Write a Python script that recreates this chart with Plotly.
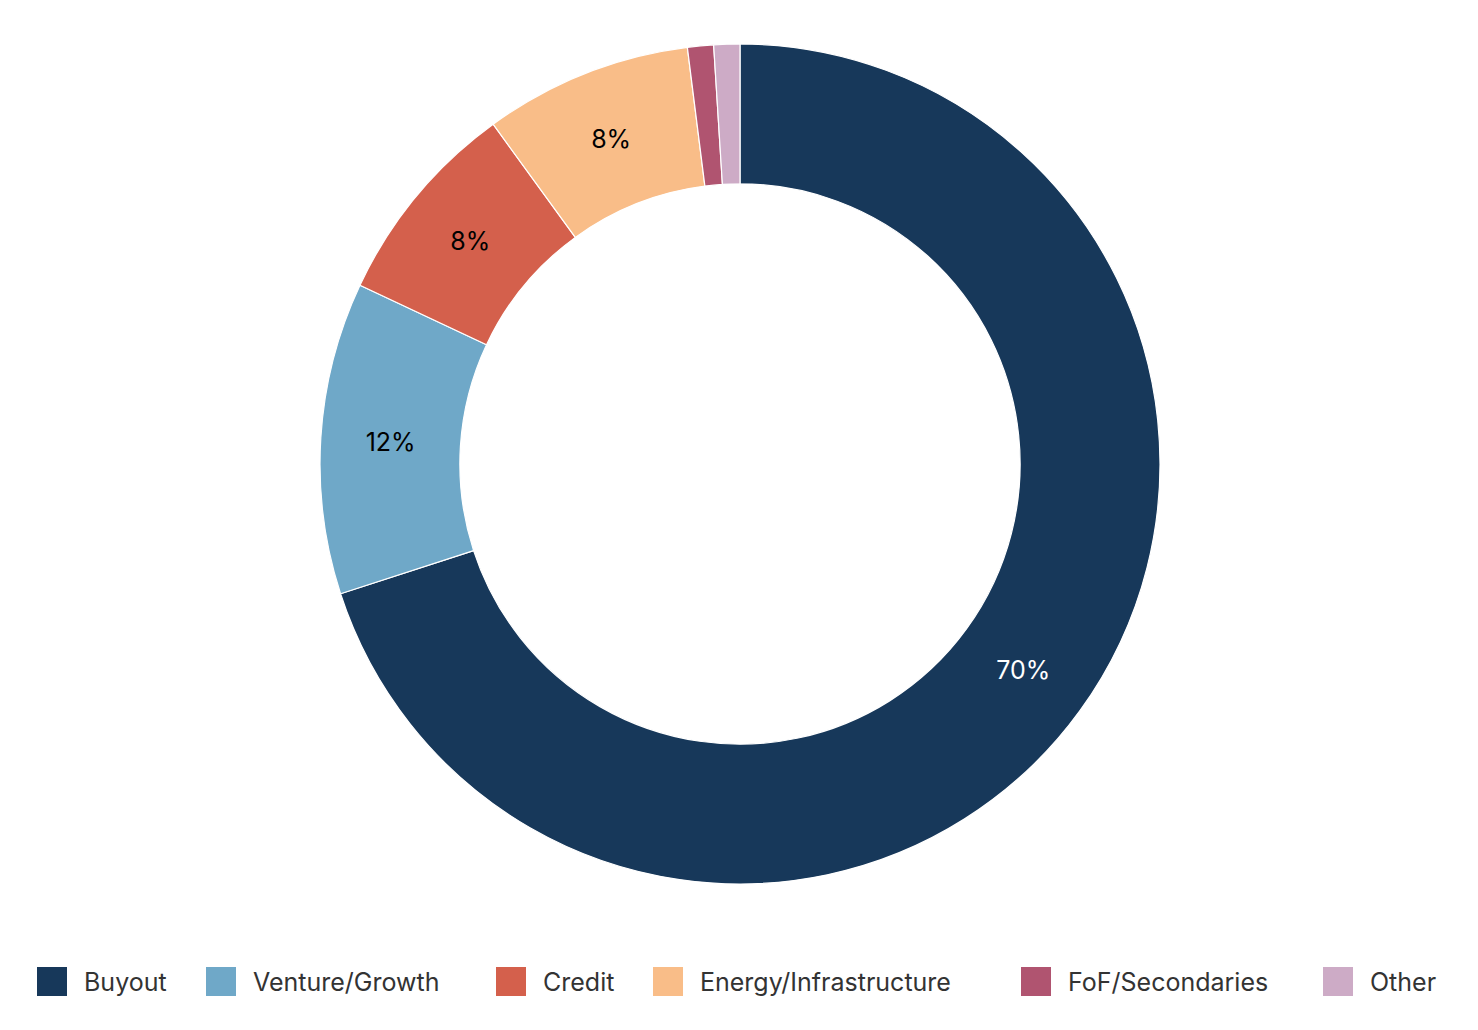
import plotly.graph_objects as go

# Fund strategy split (percent)
labels = ["Buyout", "Venture/Growth", "Credit", "Energy/Infrastructure", "FoF/Secondaries", "Other"]
values = [70, 12, 8, 8, 1, 1]
colors = ["#17385a", "#6fa8c8", "#d4604c", "#f9bd88", "#b05470", "#cdabc6"]
label_colors = ["white", "black", "black", "black", "black", "black"]

# legend square left edges in page pixels (layout only)
legend_px = [37, 206, 496, 653, 1021, 1323]

W, H = 1478, 1030
PAGE_OFF = 8          # body margin of the html page
M_L, M_R, M_T, M_B = 0, 14, 36, 154
FONT = "Inter"

slice_text = [f"{v}%" if v >= 5 else "" for v in values]

fig = go.Figure()
fig.add_trace(go.Pie(
    labels=labels,
    values=values,
    text=slice_text,
    textinfo="text",
    textposition="inside",
    insidetextorientation="horizontal",
    insidetextfont=dict(family=FONT, size=25, color=label_colors),
    hole=0.667,
    sort=False,
    direction="clockwise",
    rotation=0,
    marker=dict(colors=colors, line=dict(color="white", width=1.2)),
    showlegend=False,
    hovertemplate="%{label}: %{value}%<extra></extra>",
))

# custom legend with big squares
plot_w = W - M_L - M_R
plot_h = H - M_T - M_B
plot_bottom = PAGE_OFF + M_T + plot_h
leg_y = (plot_bottom - 981.5) / plot_h
shapes = []
annotations = []
for lab, col, px in zip(labels, colors, legend_px):
    xa = (px - PAGE_OFF - M_L) / plot_w
    shapes.append(dict(
        type="rect", xref="paper", yref="paper",
        xsizemode="pixel", ysizemode="pixel",
        xanchor=xa, yanchor=leg_y,
        x0=0, x1=30, y0=-14.5, y1=14.5,
        fillcolor=col, line=dict(width=0),
    ))
    annotations.append(dict(
        text=lab, xref="paper", yref="paper",
        x=(px + 45 - PAGE_OFF - M_L) / plot_w, y=leg_y,
        xanchor="left", yanchor="middle",
        showarrow=False, font=dict(family=FONT, size=25, color="#333333"),
    ))

fig.update_layout(
    width=W, height=H,
    margin=dict(l=M_L, r=M_R, t=M_T, b=M_B),
    paper_bgcolor="white", plot_bgcolor="white",
    font=dict(family=FONT, size=25, color="#333333"),
    shapes=shapes,
    annotations=annotations,
)

fig.write_html("out.html")
